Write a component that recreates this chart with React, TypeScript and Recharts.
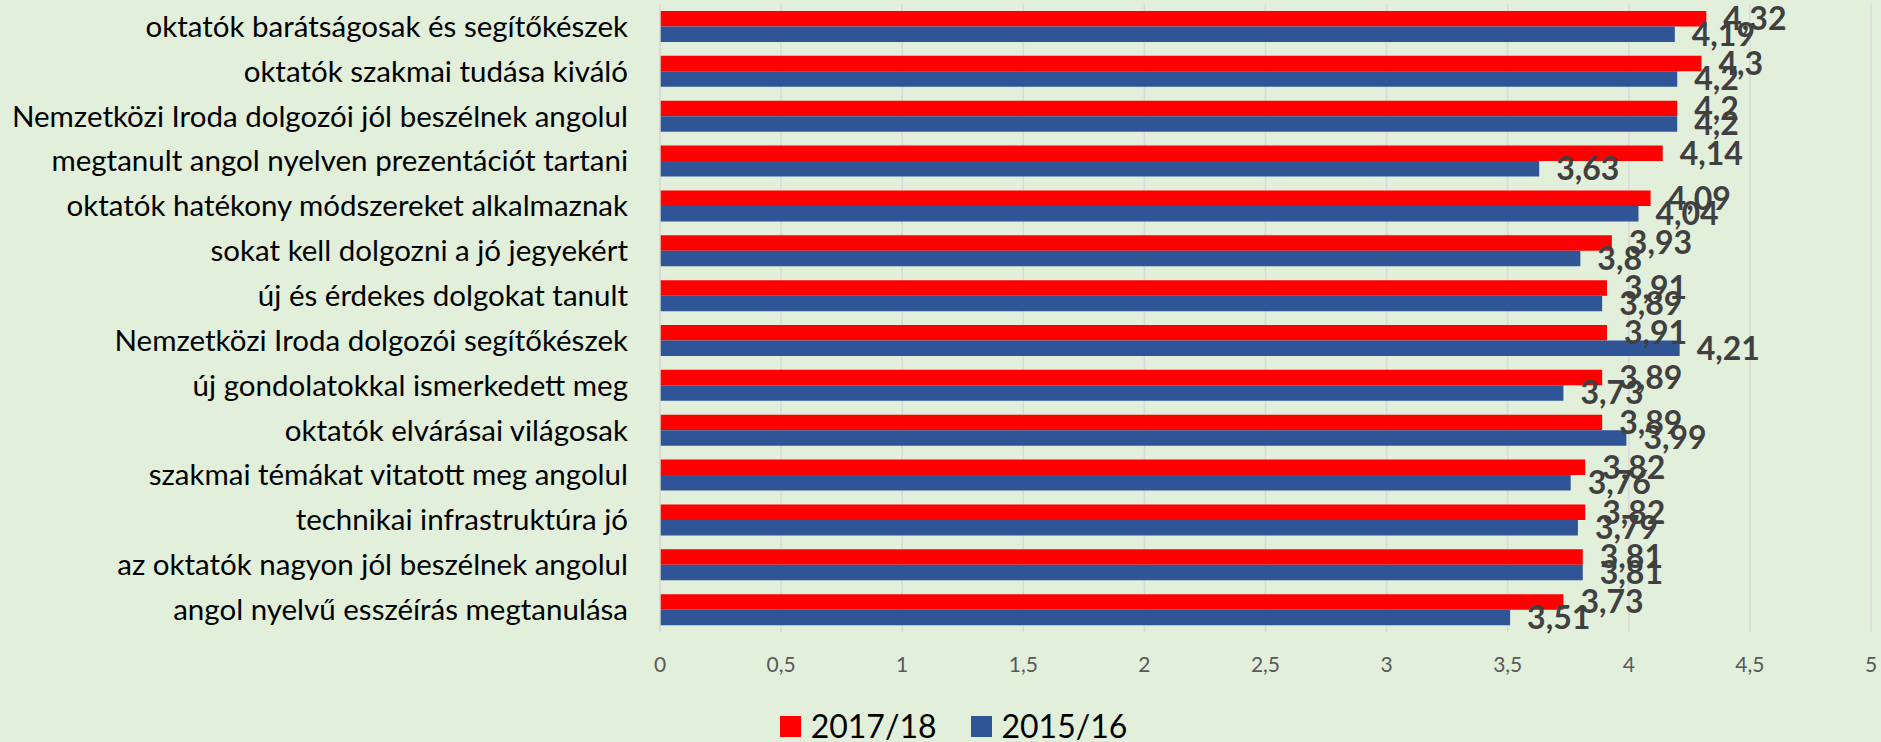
import React from 'react';
import { BarChart, Bar, XAxis, YAxis, CartesianGrid, Legend, LabelList } from 'recharts';

const categories = [
  'oktatók barátságosak és segítőkészek',
  'oktatók szakmai tudása kiváló',
  'Nemzetközi Iroda dolgozói jól beszélnek angolul',
  'megtanult angol nyelven prezentációt tartani',
  'oktatók hatékony módszereket alkalmaznak',
  'sokat kell dolgozni a jó jegyekért',
  'új és érdekes dolgokat tanult',
  'Nemzetközi Iroda dolgozói segítőkészek',
  'új gondolatokkal ismerkedett meg',
  'oktatók elvárásai világosak',
  'szakmai témákat vitatott meg angolul',
  'technikai infrastruktúra jó',
  'az oktatók nagyon jól beszélnek angolul',
  'angol nyelvű esszéírás megtanulása',
];

const values2017 = [4.32, 4.3, 4.2, 4.14, 4.09, 3.93, 3.91, 3.91, 3.89, 3.89, 3.82, 3.82, 3.81, 3.73];
const values2015 = [4.19, 4.2, 4.2, 3.63, 4.04, 3.8, 3.89, 4.21, 3.73, 3.99, 3.76, 3.79, 3.81, 3.51];

const xTicks = [0, 0.5, 1, 1.5, 2, 2.5, 3, 3.5, 4, 4.5, 5];

const seriesNames = ['2017/18', '2015/16'];
const seriesColors = ['#FF0000', '#2F5597'];

const data = categories.map((c, i) => ({
  name: c,
  s2017: values2017[i],
  s2015: values2015[i],
}));

const fmt = (v: any) => String(v).replace('.', ',');

const FONT = 'Lato, "Open Sans", sans-serif';

const LegendContent = () => (
  <div
    style={{
      height: 44,
      paddingTop: 12,
      boxSizing: 'border-box',
      display: 'flex',
      alignItems: 'center',
      justifyContent: 'center',
      paddingLeft: 26,
      fontFamily: FONT,
      fontSize: 32,
      color: '#000',
    }}
  >
    {seriesNames.map((n, i) => (
      <div key={n} style={{ display: 'flex', alignItems: 'center', marginRight: i === 0 ? 34 : 0 }}>
        <div style={{ width: 21, height: 21, background: seriesColors[i], marginRight: 10 }} />
        <span style={{ lineHeight: '32px' }}>{n}</span>
      </div>
    ))}
  </div>
);

export default function App() {
  return (
    <div style={{ position: 'absolute', left: 0, top: 0, width: 1881, height: 742, background: '#E2EFDA' }}>
      <BarChart
        width={1881}
        height={742}
        data={data}
        layout="vertical"
        margin={{ top: 4, right: 10, left: 0, bottom: 26 }}
        barGap={0}
        barSize={15.5}
      >
        <CartesianGrid horizontal={false} vertical={true} stroke="#D9D9D9" strokeWidth={1.5} />
        <XAxis
          type="number"
          domain={[0, 5]}
          ticks={xTicks}
          tickFormatter={fmt}
          axisLine={false}
          tickLine={false}
          tickMargin={19}
          height={40}
          interval={0}
          tick={{ fill: '#595959', fontSize: 21, fontFamily: FONT }}
        />
        <YAxis
          type="category"
          dataKey="name"
          width={660}
          axisLine={{ stroke: '#D9D9D9', strokeWidth: 1.5 }}
          tickLine={false}
          tickMargin={26}
          interval={0}
          tick={{ fill: '#000', fontSize: 29.5, fontFamily: FONT }}
        />
        <Legend
          verticalAlign="bottom"
          content={<LegendContent />}
          wrapperStyle={{ bottom: 0, left: 0, width: 1881 }}
        />
        <Bar dataKey="s2017" name={seriesNames[0]} fill={seriesColors[0]} isAnimationActive={false}>
          <LabelList
            dataKey="s2017"
            position="right"
            offset={17}
            formatter={fmt}
            style={{ fill: '#404040', fontSize: 32, fontWeight: 700, fontFamily: FONT }}
          />
        </Bar>
        <Bar dataKey="s2015" name={seriesNames[1]} fill={seriesColors[1]} isAnimationActive={false}>
          <LabelList
            dataKey="s2015"
            position="right"
            offset={17}
            formatter={fmt}
            style={{ fill: '#404040', fontSize: 32, fontWeight: 700, fontFamily: FONT }}
          />
        </Bar>
      </BarChart>
    </div>
  );
}
